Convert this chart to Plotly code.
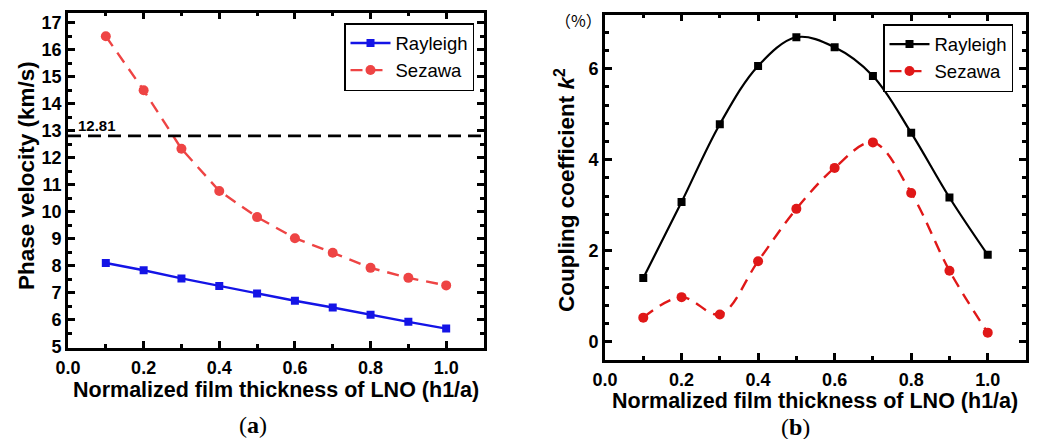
import plotly.graph_objects as go

# ---------------- data ----------------
thickness = [0.1, 0.2, 0.3, 0.4, 0.5, 0.6, 0.7, 0.8, 0.9, 1.0]
vel_rayleigh = [8.10, 7.83, 7.53, 7.25, 6.97, 6.70, 6.45, 6.18, 5.92, 5.67]
vel_sezawa = [16.50, 14.50, 12.33, 10.77, 9.80, 9.02, 8.48, 7.92, 7.55, 7.27]
vel_reference = 12.81
k2_rayleigh = [1.40, 3.07, 4.78, 6.06, 6.69, 6.47, 5.84, 4.59, 3.17, 1.91]
k2_sezawa = [0.53, 0.98, 0.60, 1.77, 2.92, 3.82, 4.38, 3.27, 1.56, 0.20]
series_names = ["Rayleigh", "Sezawa"]

W, H = 1054, 439
FONT = "Arial, Liberation Sans, sans-serif"


def px_x(p):
    return p / W


def px_y(p):
    return 1 - p / H


fig = go.Figure()

# left panel
fig.add_trace(go.Scatter(x=thickness, y=vel_rayleigh, name=series_names[0], mode="lines+markers",
                         line=dict(color="#1414e6", width=2.4),
                         marker=dict(symbol="square", size=8, color="#1414e6"),
                         xaxis="x", yaxis="y", legend="legend"))
fig.add_trace(go.Scatter(x=thickness, y=vel_sezawa, name=series_names[1], mode="lines+markers",
                         line=dict(color="#ee4444", width=2.4, dash="12px,8px"),
                         marker=dict(symbol="circle", size=10, color="#ee4444"),
                         xaxis="x", yaxis="y", legend="legend"))
# right panel
fig.add_trace(go.Scatter(x=thickness, y=k2_rayleigh, name=series_names[0], mode="lines+markers",
                         line=dict(color="black", width=2.2, shape="spline", smoothing=1),
                         marker=dict(symbol="square", size=8, color="black"),
                         xaxis="x2", yaxis="y2", legend="legend2"))
fig.add_trace(go.Scatter(x=thickness, y=k2_sezawa, name=series_names[1], mode="lines+markers",
                         line=dict(color="#e01818", width=2.4, dash="12px,8px", shape="spline", smoothing=1),
                         marker=dict(symbol="circle", size=10, color="#e01818"),
                         xaxis="x2", yaxis="y2", legend="legend2"))

axis_common = dict(showline=True, linecolor="black", linewidth=2.8, mirror="allticks",
                   ticks="inside", ticklen=7, tickwidth=2.8, tickcolor="black",
                   showgrid=False, zeroline=False, automargin=False,
                   tickfont=dict(family=FONT, size=18, color="black", weight="bold"))

minor_common = dict(ticks="inside", ticklen=4, tickwidth=2.8, tickcolor="black")

xaxis_common = dict(axis_common, range=[0, 1.1], tick0=0, dtick=0.2, tickformat=".1f",
                    ticklabelstandoff=2,
                    minor=dict(minor_common, dtick=0.1, tick0=0))

legend_common = dict(xanchor="left", yanchor="top",
                     bordercolor="black", borderwidth=1.5, bgcolor="white",
                     font=dict(family=FONT, size=18.5, color="black"), tracegroupgap=0,
                     itemwidth=40)

fig.update_layout(
    width=W, height=H,
    margin=dict(l=0, r=0, t=0, b=0, pad=0),
    paper_bgcolor="white", plot_bgcolor="white",
    xaxis=dict(xaxis_common, domain=[px_x(68), px_x(484)], anchor="y"),
    yaxis=dict(axis_common, domain=[px_y(347.5), px_y(12.5)], anchor="x",
               range=[4.97, 17.38], tick0=0, dtick=1,
               minor=dict(minor_common, dtick=0.5, tick0=0)),
    xaxis2=dict(xaxis_common, domain=[px_x(605), px_x(1026)], anchor="y2"),
    yaxis2=dict(axis_common, domain=[px_y(359.5), px_y(14.5)], anchor="x2",
                range=[-0.39, 7.19], tick0=0, dtick=2,
                minor=dict(minor_common, dtick=0.4, tick0=0)),
    legend=dict(legend_common, x=px_x(344), y=px_y(23)),
    legend2=dict(legend_common, x=px_x(883), y=px_y(24)),
)

# reference phase velocity line
fig.add_shape(type="line", xref="x domain", yref="y", x0=0, x1=1,
              y0=vel_reference, y1=vel_reference,
              line=dict(color="black", width=2.6, dash="13px,7px"))

annotations = [
    dict(text=f"{vel_reference:.2f}", x=px_x(97), y=px_y(126), font=dict(size=15, weight="bold")),
    dict(text="<b>Normalized film thickness of LNO (h1/a)</b>", x=px_x(276), y=px_y(390), font=dict(size=21.5)),
    dict(text="<b>Phase velocity (km/s)</b>", x=px_x(26), y=px_y(176), font=dict(size=22.5)),
    dict(text="<b>Normalized film thickness of LNO (h1/a)</b>", x=px_x(815), y=px_y(401), font=dict(size=21.5)),
    dict(text="<b>Coupling coefficient <i>k</i><sup>2</sup></b>", x=px_x(565), y=px_y(190), font=dict(size=22.5)),
    dict(text="（%）", x=px_x(578), y=px_y(20), font=dict(size=16, family="Noto Sans CJK SC")),
    dict(text="(<b>a</b>)", x=px_x(253), y=px_y(425), font=dict(size=24, family="Liberation Serif, Times New Roman, serif")),
    dict(text="(<b>b</b>)", x=px_x(795), y=px_y(427), font=dict(size=24, family="Liberation Serif, Times New Roman, serif")),
]
for a in annotations:
    f = dict(family=FONT, color="black")
    f.update(a.pop("font"))
    angle = -90 if ("Phase" in a["text"] or "Coupling" in a["text"]) else 0
    fig.add_annotation(xref="paper", yref="paper", showarrow=False, xanchor="center", yanchor="middle",
                       textangle=angle, font=f, **a)

fig.write_html("out.html")
